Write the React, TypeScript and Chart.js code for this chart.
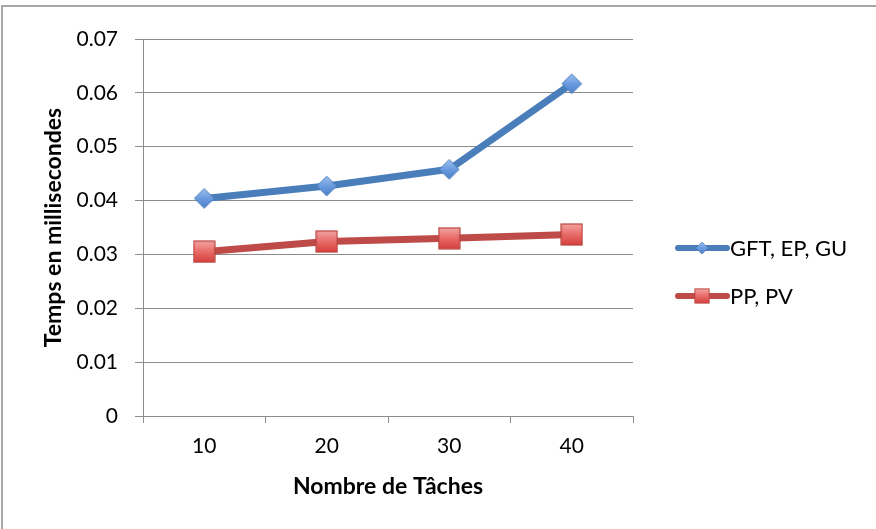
import React, { useEffect, useRef } from 'react';
import { Chart, registerables } from 'chart.js';

Chart.register(...registerables);

// Chart data
const categories = ['10', '20', '30', '40'];
const gftEpGu = [0.0404, 0.0427, 0.0458, 0.0617];
const ppPv = [0.0305, 0.0324, 0.033, 0.0337];
const seriesLabels = ['GFT, EP, GU', 'PP, PV'];
const xTitle = 'Nombre de Tâches';
const yTitle = 'Temps en millisecondes';
const yMin = 0;
const yMax = 0.07;
const yStep = 0.01;

const FONT = 'Lato, "Open Sans", sans-serif';
const BLUE = '#4a7ebb';
const RED = '#be4b48';
const GRID = '#8c8c8c';

function makeDiamond(): HTMLCanvasElement {
  const c = document.createElement('canvas');
  const s = 22;
  c.width = s;
  c.height = s;
  const g = c.getContext('2d')!;
  const m = s / 2;
  const r = 9.8;
  const grad = g.createLinearGradient(0, m - r, 0, m + r);
  grad.addColorStop(0, '#9cc0ee');
  grad.addColorStop(0.5, '#6b9be0');
  grad.addColorStop(1, '#4f7fc4');
  g.beginPath();
  g.moveTo(m, m - r);
  g.lineTo(m + r, m);
  g.lineTo(m, m + r);
  g.lineTo(m - r, m);
  g.closePath();
  g.fillStyle = grad;
  g.fill();
  g.lineWidth = 1;
  g.strokeStyle = '#4a7ebb';
  g.stroke();
  return c;
}

function makeSquare(): HTMLCanvasElement {
  const c = document.createElement('canvas');
  const s = 23;
  c.width = s;
  c.height = s;
  const g = c.getContext('2d')!;
  const grad = g.createLinearGradient(0, 1, 0, s - 1);
  grad.addColorStop(0, '#f4a3a1');
  grad.addColorStop(0.5, '#e86b68');
  grad.addColorStop(1, '#d5403d');
  g.fillStyle = grad;
  g.fillRect(1, 1, s - 2, s - 2);
  g.lineWidth = 1.2;
  g.strokeStyle = '#b8433f';
  g.strokeRect(1, 1, s - 2, s - 2);
  return c;
}

export default function App() {
  const canvasRef = useRef<HTMLCanvasElement | null>(null);

  useEffect(() => {
    const canvas = canvasRef.current;
    if (!canvas) return;
    const diamond = makeDiamond();
    const square = makeSquare();
    const markers = [diamond, square];
    const legendMarkerScale = [0.62, 0.68];
    const colors = [BLUE, RED];

    // Outer frame of the chart object
    const framePlugin = {
      id: 'frame',
      beforeDraw(chart: any) {
        const ctx = chart.ctx;
        ctx.save();
        ctx.strokeStyle = '#a6a6a6';
        ctx.lineWidth = 2;
        ctx.beginPath();
        ctx.moveTo(2, chart.height);
        ctx.lineTo(2, 6);
        ctx.lineTo(chart.width, 6);
        ctx.stroke();
        ctx.restore();
      },
    };

    // Legend on the right: line sample with its marker, then the label
    const legendPlugin = {
      id: 'sideLegend',
      afterDraw(chart: any) {
        const ctx = chart.ctx;
        const ys = [248, 296];
        ctx.save();
        chart.data.datasets.forEach((ds: any, i: number) => {
          const y = ys[i];
          ctx.strokeStyle = colors[i];
          ctx.lineWidth = 6;
          ctx.lineCap = 'round';
          ctx.beginPath();
          ctx.moveTo(678, y);
          ctx.lineTo(727, y);
          ctx.stroke();
          const mk = markers[i];
          const w = mk.width * legendMarkerScale[i];
          const h = mk.height * legendMarkerScale[i];
          ctx.drawImage(mk, 702 - w / 2, y - h / 2, w, h);
          ctx.fillStyle = '#000';
          ctx.font = `22px ${FONT}`;
          ctx.textAlign = 'left';
          ctx.textBaseline = 'middle';
          ctx.fillText(ds.label, 730, y + 1);
        });
        ctx.restore();
      },
    };

    const chart = new Chart(canvas, {
      type: 'line',
      data: {
        labels: categories,
        datasets: [
          {
            label: seriesLabels[0],
            data: gftEpGu,
            borderColor: BLUE,
            borderWidth: 7,
            pointStyle: diamond,
            pointRadius: 10,
            pointHoverRadius: 10,
            tension: 0,
            borderCapStyle: 'round',
            borderJoinStyle: 'round',
          },
          {
            label: seriesLabels[1],
            data: ppPv,
            borderColor: RED,
            borderWidth: 7,
            pointStyle: square,
            pointRadius: 11,
            pointHoverRadius: 11,
            tension: 0,
            borderCapStyle: 'round',
            borderJoinStyle: 'round',
          },
        ],
      },
      options: {
        responsive: false,
        animation: false,
        layout: { padding: { top: 39, right: 243, left: 0, bottom: 0 } },
        plugins: {
          legend: { display: false },
          tooltip: { enabled: false },
        },
        scales: {
          x: {
            type: 'category',
            offset: true,
            afterFit(scale: any) {
              scale.height = 113;
            },
            grid: {
              offset: true,
              drawOnChartArea: false,
              drawTicks: true,
              tickLength: 7,
              color: GRID,
            },
            border: { display: true, color: GRID, width: 1 },
            ticks: {
              color: '#000',
              padding: 11,
              font: { family: FONT, size: 21 },
            },
            title: {
              display: true,
              text: xTitle,
              color: '#000',
              padding: { top: 0, bottom: 29 },
              font: { family: FONT, size: 23, weight: 'bold' },
            },
          },
          y: {
            min: yMin,
            max: yMax,
            afterFit(scale: any) {
              scale.width = 143;
            },
            grid: {
              color: GRID,
              tickLength: 8,
              drawTicks: true,
            },
            border: { display: true, color: GRID, width: 1 },
            ticks: {
              stepSize: yStep,
              color: '#000',
              padding: 17,
              font: { family: FONT, size: 21 },
              callback: (v: any) => (Number(v) === 0 ? '0' : Number(v).toFixed(2)),
            },
            title: {
              display: true,
              text: yTitle,
              color: '#000',
              padding: { top: 40, bottom: 0 },
              font: { family: FONT, size: 23, weight: 'bold' },
            },
          },
        },
      },
      plugins: [framePlugin, legendPlugin],
    });

    return () => chart.destroy();
  }, []);

  return (
    <div style={{ position: 'absolute', left: 0, top: 0, width: 876, height: 529, background: '#fff' }}>
      <canvas ref={canvasRef} width={876} height={529} style={{ display: 'block' }} />
    </div>
  );
}
